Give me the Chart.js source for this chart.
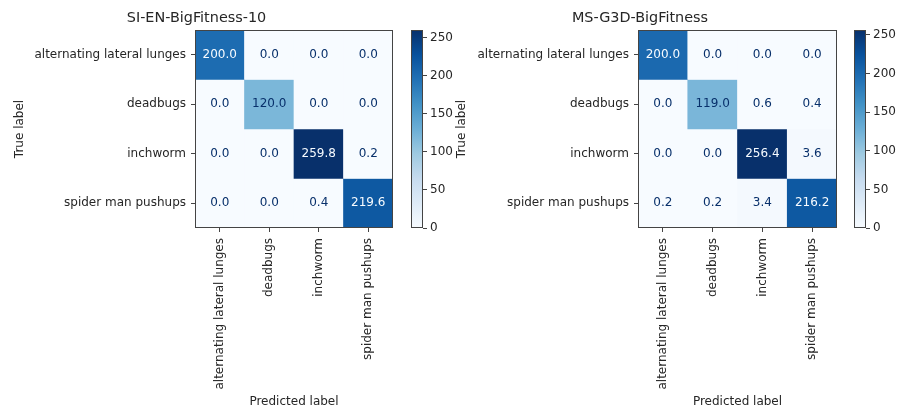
<!DOCTYPE html>
<html>
<head>
<meta charset="utf-8">
<script src="https://cdn.jsdelivr.net/npm/chart.js@4"></script>
<style>
  body { margin: 0; background: #fff; width: 898px; height: 409px; overflow: hidden; }
  canvas { position: absolute; top: 0; }
</style>
</head>
<body>
<canvas id="cmLeft" width="400" height="409" style="left:0px"></canvas>
<canvas id="cbLeft" width="60" height="409" style="left:400px"></canvas>
<canvas id="cmRight" width="400" height="409" style="left:443px"></canvas>
<canvas id="cbRight" width="55" height="409" style="left:843px"></canvas>
<script>
const classes = ['alternating lateral lunges', 'deadbugs', 'inchworm', 'spider man pushups'];

const leftTitle = 'SI-EN-BigFitness-10';
const leftValues = [
    [200.0, 0.0, 0.0, 0.0],
    [0.0, 120.0, 0.0, 0.0],
    [0.0, 0.0, 259.8, 0.2],
    [0.0, 0.0, 0.4, 219.6]
];

const rightTitle = 'MS-G3D-BigFitness';
const rightValues = [
    [200.0, 0.0, 0.0, 0.0],
    [0.0, 119.0, 0.6, 0.4],
    [0.0, 0.0, 256.4, 3.6],
    [0.2, 0.2, 3.4, 216.2]
];

const colorbarTicks = [0, 50, 100, 150, 200, 250];

// matplotlib "Blues"
const bluesStops = ['#f7fbff', '#deebf7', '#c6dbef', '#9ecae1', '#6baed6', '#4292c6', '#2171b5', '#08519c', '#08306b'];

function hexRgb(h) {
    return [parseInt(h.slice(1, 3), 16), parseInt(h.slice(3, 5), 16), parseInt(h.slice(5, 7), 16)];
}
function blues(t) {
    t = Math.max(0, Math.min(1, t));
    const pos = t * (bluesStops.length - 1);
    const i = Math.min(Math.floor(pos), bluesStops.length - 2);
    const f = pos - i;
    const a = hexRgb(bluesStops[i]), b = hexRgb(bluesStops[i + 1]);
    const c = a.map((v, k) => Math.round(v + (b[k] - v) * f));
    return 'rgb(' + c.join(',') + ')';
}

const textColor = '#262626';
const font = {family: 'DejaVu Sans', size: 12};

const framePlugin = {
    id: 'frame',
    afterDraw(chart) {
        const a = chart.chartArea, ctx = chart.ctx;
        ctx.save();
        ctx.strokeStyle = '#444';
        ctx.lineWidth = 1;
        ctx.strokeRect(Math.round(a.left) + 0.5, Math.round(a.top) + 0.5,
            Math.round(a.right - a.left) - 1, Math.round(a.bottom - a.top) - 1);
        ctx.restore();
    }
};

function makeMatrix(id, title, values, rightPad, ylabelPad) {
    const vmax = Math.max(...values.flat());
    const vmin = Math.min(...values.flat());
    const thresh = (vmax + vmin) / 2;
    const datasets = values.map((row, r) => ({
        data: row.map(() => [r - 0.5, r + 0.5]),
        backgroundColor: row.map(v => blues((v - vmin) / (vmax - vmin))),
        borderWidth: 0,
        barPercentage: 1,
        categoryPercentage: 1,
        grouped: false
    }));

    const cellText = {
        id: 'cellText',
        afterDatasetsDraw(chart) {
            const ctx = chart.ctx;
            ctx.save();
            ctx.font = '12px "DejaVu Sans"';
            ctx.textAlign = 'center';
            ctx.textBaseline = 'middle';
            chart.data.datasets.forEach((ds, r) => {
                chart.getDatasetMeta(r).data.forEach((el, c) => {
                    const v = values[r][c];
                    const p = el.getCenterPoint();
                    ctx.fillStyle = v >= thresh ? bluesStops[0] : bluesStops[8];
                    ctx.fillText(v.toFixed(1), p.x, p.y);
                });
            });
            ctx.restore();
        }
    };

    new Chart(document.getElementById(id), {
        type: 'bar',
        data: {labels: classes, datasets: datasets},
        options: {
            responsive: false,
            animation: false,
            layout: {padding: {left: 0, right: rightPad, top: 0, bottom: 0}},
            plugins: {
                legend: {display: false},
                tooltip: {enabled: false},
                title: {
                    display: true, text: title, color: textColor,
                    font: {family: 'DejaVu Sans', size: 14.4, weight: 'normal'},
                    padding: {top: 10, bottom: 2.7}
                }
            },
            scales: {
                x: {
                    ticks: {color: textColor, font: font, minRotation: 90, maxRotation: 90, autoSkip: false, padding: 6},
                    grid: {drawOnChartArea: false, drawTicks: true, tickLength: 4, color: '#444', offset: false},
                    border: {display: false},
                    title: {display: true, text: 'Predicted label', color: textColor, font: font, padding: {top: 0, bottom: 0}},
                    afterFit: s => { s.height = 181; }
                },
                y: {
                    type: 'linear', min: -0.5, max: 3.5, reverse: true,
                    afterBuildTicks: s => { s.ticks = classes.map((_, i) => ({value: i})); },
                    ticks: {color: textColor, font: font, padding: 5, callback: v => classes[v]},
                    grid: {drawOnChartArea: false, drawTicks: true, tickLength: 4, color: '#444'},
                    border: {display: false},
                    title: {display: true, text: 'True label', color: textColor, font: font, padding: {top: ylabelPad, bottom: 0}},
                    afterFit: s => { s.width = 195; }
                }
            }
        },
        plugins: [cellText, framePlugin]
    });
}

function makeColorbar(id, values) {
    const vmax = Math.max(...values.flat());
    const vmin = Math.min(...values.flat());
    new Chart(document.getElementById(id), {
        type: 'bar',
        data: {
            labels: [''],
            datasets: [{
                data: [[vmin, vmax]],
                borderWidth: 0,
                barPercentage: 1,
                categoryPercentage: 1,
                backgroundColor: ctx => {
                    const a = ctx.chart.chartArea;
                    if (!a) return bluesStops[4];
                    const g = ctx.chart.ctx.createLinearGradient(0, a.bottom, 0, a.top);
                    bluesStops.forEach((c, i) => g.addColorStop(i / (bluesStops.length - 1), c));
                    return g;
                }
            }]
        },
        options: {
            responsive: false,
            animation: false,
            layout: {padding: {left: 11, right: 0, top: 30, bottom: 181}},
            plugins: {legend: {display: false}, tooltip: {enabled: false}},
            scales: {
                x: {display: false},
                y: {
                    position: 'right', min: vmin, max: vmax,
                    afterBuildTicks: s => { s.ticks = colorbarTicks.map(v => ({value: v})); },
                    ticks: {color: textColor, font: font, padding: 3},
                    grid: {drawOnChartArea: false, drawTicks: true, tickLength: 4, color: '#444'},
                    border: {display: false},
                    afterFit: s => { s.width = s.chart.width - 11 - 12; }
                }
            }
        },
        plugins: [framePlugin]
    });
}

makeMatrix('cmLeft', leftTitle, leftValues, 7, 12.8);
makeColorbar('cbLeft', leftValues);
makeMatrix('cmRight', rightTitle, rightValues, 6, 11.8);
makeColorbar('cbRight', rightValues);
</script>
</body>
</html>
